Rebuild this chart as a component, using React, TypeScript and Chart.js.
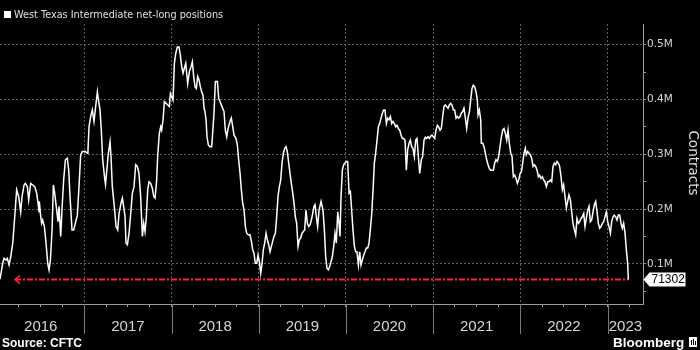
import React, { useEffect, useRef } from "react";
import { Chart, registerables } from "chart.js";

Chart.register(...registerables);

// Weekly report dates as decimal years
const weeks = [
  2016.033, 2016.064, 2016.079, 2016.102, 2016.117, 2016.137, 2016.156, 2016.179, 2016.202, 2016.224,
  2016.247, 2016.270, 2016.286, 2016.309, 2016.324, 2016.347, 2016.362, 2016.385, 2016.408, 2016.431,
  2016.454, 2016.469, 2016.481, 2016.484, 2016.500, 2016.511, 2016.523, 2016.542, 2016.561, 2016.580,
  2016.595, 2016.611, 2016.630, 2016.645, 2016.660, 2016.683, 2016.698, 2016.710, 2016.729, 2016.748,
  2016.763, 2016.783, 2016.805, 2016.821, 2016.836, 2016.859, 2016.878, 2016.897, 2016.920, 2016.939,
  2016.958, 2016.977, 2017.012, 2017.035, 2017.042, 2017.054, 2017.073, 2017.092, 2017.111, 2017.130,
  2017.150, 2017.165, 2017.180, 2017.195, 2017.211, 2017.234, 2017.243, 2017.276, 2017.295, 2017.306,
  2017.321, 2017.344, 2017.364, 2017.383, 2017.398, 2017.421, 2017.436, 2017.451, 2017.467, 2017.478,
  2017.494, 2017.513, 2017.532, 2017.551, 2017.570, 2017.589, 2017.608, 2017.627, 2017.646, 2017.666,
  2017.681, 2017.696, 2017.711, 2017.727, 2017.742, 2017.761, 2017.780, 2017.796, 2017.811, 2017.830,
  2017.841, 2017.860, 2017.876, 2017.887, 2017.903, 2017.918, 2017.937, 2017.956, 2017.975, 2017.987,
  2018.002, 2018.017, 2018.033, 2018.048, 2018.067, 2018.086, 2018.101, 2018.117, 2018.132, 2018.147,
  2018.163, 2018.174, 2018.185, 2018.205, 2018.224, 2018.239, 2018.254, 2018.270, 2018.285, 2018.300,
  2018.315, 2018.331, 2018.346, 2018.361, 2018.373, 2018.384, 2018.396, 2018.407, 2018.422, 2018.441,
  2018.461, 2018.487, 2018.503, 2018.526, 2018.541, 2018.556, 2018.579, 2018.602, 2018.617, 2018.633,
  2018.648, 2018.671, 2018.686, 2018.702, 2018.717, 2018.740, 2018.755, 2018.770, 2018.786, 2018.801,
  2018.816, 2018.832, 2018.847, 2018.862, 2018.881, 2018.900, 2018.916, 2018.931, 2018.946, 2018.961,
  2018.977, 2018.992, 2019.007, 2019.023, 2019.038, 2019.053, 2019.068, 2019.084, 2019.099, 2019.114,
  2019.130, 2019.145, 2019.160, 2019.175, 2019.191, 2019.206, 2019.221, 2019.237, 2019.252, 2019.267,
  2019.283, 2019.298, 2019.313, 2019.328, 2019.344, 2019.359, 2019.374, 2019.390, 2019.405, 2019.420,
  2019.435, 2019.451, 2019.466, 2019.481, 2019.497, 2019.512, 2019.527, 2019.542, 2019.558, 2019.573,
  2019.588, 2019.604, 2019.619, 2019.634, 2019.646, 2019.661, 2019.676, 2019.692, 2019.715, 2019.737,
  2019.753, 2019.768, 2019.783, 2019.799, 2019.814, 2019.829, 2019.844, 2019.860, 2019.875, 2019.890,
  2019.906, 2019.921, 2019.932, 2019.944, 2019.959, 2019.974, 2019.990, 2020.005, 2020.020, 2020.036,
  2020.051, 2020.066, 2020.081, 2020.097, 2020.112, 2020.127, 2020.143, 2020.158, 2020.173, 2020.188,
  2020.204, 2020.219, 2020.234, 2020.250, 2020.265, 2020.280, 2020.296, 2020.311, 2020.326, 2020.341,
  2020.357, 2020.372, 2020.387, 2020.403, 2020.418, 2020.433, 2020.448, 2020.464, 2020.479, 2020.494,
  2020.510, 2020.525, 2020.540, 2020.555, 2020.571, 2020.586, 2020.601, 2020.617, 2020.632, 2020.647,
  2020.662, 2020.678, 2020.693, 2020.708, 2020.724, 2020.739, 2020.754, 2020.769, 2020.785, 2020.800,
  2020.815, 2020.831, 2020.846, 2020.865, 2020.880, 2020.896, 2020.911, 2020.926, 2020.942, 2020.957,
  2020.972, 2020.987, 2021.003, 2021.018, 2021.033, 2021.049, 2021.064, 2021.079, 2021.094, 2021.110,
  2021.125, 2021.140, 2021.156, 2021.171, 2021.186, 2021.201, 2021.217, 2021.232, 2021.247, 2021.263,
  2021.278, 2021.293, 2021.309, 2021.324, 2021.339, 2021.354, 2021.370, 2021.385, 2021.400, 2021.416,
  2021.431, 2021.446, 2021.461, 2021.477, 2021.492, 2021.507, 2021.515, 2021.530, 2021.546, 2021.553,
  2021.569, 2021.584, 2021.599, 2021.614, 2021.630, 2021.645, 2021.660, 2021.676, 2021.691, 2021.706,
  2021.721, 2021.737, 2021.752, 2021.767, 2021.783, 2021.798, 2021.813, 2021.829, 2021.844, 2021.859,
  2021.874, 2021.890, 2021.905, 2021.920, 2021.936, 2021.951, 2021.966, 2021.981, 2021.997, 2022.012,
  2022.027, 2022.043, 2022.058, 2022.069, 2022.085, 2022.100, 2022.115, 2022.130, 2022.146, 2022.161,
  2022.176, 2022.192, 2022.207, 2022.222, 2022.237, 2022.253, 2022.268, 2022.283, 2022.299, 2022.314,
  2022.329, 2022.344, 2022.360, 2022.375, 2022.390, 2022.406, 2022.421, 2022.436, 2022.451, 2022.467,
  2022.482, 2022.497, 2022.513, 2022.528, 2022.543, 2022.558, 2022.574, 2022.589, 2022.604, 2022.620,
  2022.635, 2022.650, 2022.666, 2022.681, 2022.696, 2022.711, 2022.727, 2022.742, 2022.757, 2022.773,
  2022.788, 2022.803, 2022.818, 2022.834, 2022.849, 2022.864, 2022.880, 2022.895, 2022.910, 2022.925,
  2022.941, 2022.956, 2022.971, 2022.987, 2023.002, 2023.017, 2023.033, 2023.048, 2023.063, 2023.078,
  2023.094, 2023.109, 2023.124, 2023.140, 2023.155, 2023.170, 2023.185, 2023.201, 2023.216, 2023.231,
  2023.239,
];

// Net-long positions, thousands of contracts
const netLong = [
  72, 101, 110, 107, 110, 98, 113, 138, 186, 235,
  223, 195, 223, 244, 247, 241, 217, 247, 244, 241,
  229, 211, 195, 214, 186, 174, 180, 168, 138, 101,
  89, 107, 162, 244, 229, 198, 177, 205, 150, 211,
  253, 290, 293, 271, 223, 162, 162, 174, 189, 241,
  299, 305, 305, 302, 308, 350, 369, 381, 360, 387,
  414, 396, 381, 344, 290, 255, 245, 302, 323, 296,
  241, 205, 168, 162, 192, 211, 220, 205, 186, 138,
  135, 156, 192, 229, 241, 281, 278, 265, 223, 150,
  174, 159, 186, 235, 250, 247, 238, 223, 220, 253,
  296, 338, 350, 344, 363, 396, 393, 390, 387, 411,
  405, 399, 466, 484, 496, 496, 481, 460, 448, 457,
  466, 448, 429, 451, 460, 469, 442, 423, 420, 442,
  436, 423, 414, 408, 384, 378, 363, 332, 317, 314,
  314, 375, 433, 433, 402, 396, 387, 378, 344, 332,
  347, 360, 366, 350, 335, 329, 317, 290, 265, 235,
  211, 198, 168, 156, 153, 153, 141, 126, 119, 101,
  101, 116, 104, 83, 101, 126, 138, 156, 144, 135,
  122, 132, 141, 150, 156, 186, 223, 241, 253, 284,
  302, 311, 314, 305, 284, 265, 247, 229, 211, 186,
  174, 132, 144, 147, 156, 159, 162, 198, 174, 168,
  171, 180, 192, 205, 208, 186, 168, 198, 214, 198,
  162, 113, 92, 89, 95, 104, 113, 132, 156, 138,
  195, 174, 150, 223, 271, 281, 284, 287, 287, 229,
  232, 198, 162, 132, 122, 122, 98, 122, 98, 107,
  116, 122, 129, 129, 138, 162, 192, 235, 284, 302,
  326, 350, 356, 366, 375, 381, 381, 356, 366, 363,
  369, 356, 360, 356, 350, 353, 347, 344, 335, 329,
  329, 326, 271, 308, 320, 326, 314, 311, 296, 326,
  329, 296, 265, 290, 296, 326, 331, 329, 332, 329,
  333, 335, 332, 329, 344, 353, 350, 344, 347, 369,
  387, 390, 387, 384, 390, 393, 390, 381, 381, 366,
  369, 366, 369, 375, 378, 384, 366, 347, 366, 378,
  399, 420, 426, 423, 414, 399, 372, 381, 363, 320,
  320, 314, 302, 290, 281, 274, 271, 271, 271, 284,
  290, 287, 296, 314, 332, 344, 347, 338, 326, 344,
  320, 302, 296, 259, 262, 256, 247, 253, 265, 268,
  284, 302, 311, 299, 305, 302, 299, 293, 278, 281,
  278, 271, 259, 262, 256, 259, 253, 250, 241, 250,
  250, 253, 250, 278, 284, 281, 287, 284, 278, 259,
  235, 244, 223, 202, 214, 226, 217, 195, 174, 162,
  153, 183, 174, 177, 183, 186, 192, 168, 183, 198,
  205, 177, 180, 195, 208, 214, 195, 174, 165, 168,
  174, 177, 186, 195, 177, 168, 156, 177, 186, 189,
  186, 180, 189, 189, 174, 165, 174, 156, 126, 101,
  71.302,
];

const titleText = "West Texas Intermediate net-long positions";
const yAxisTitle = "Contracts";
const sourceText = "Source: CFTC";
const brandText = "Bloomberg";

const yearLabels = ["2016", "2017", "2018", "2019", "2020", "2021", "2022", "2023"];
const yearLabelAt = [2016.5, 2017.5, 2018.5, 2019.5, 2020.5, 2021.5, 2022.5, 2023.205];
const yearStarts = [2017, 2018, 2019, 2020, 2021, 2022, 2023];
const quarterTicks = [
  2016.25, 2016.5, 2016.75, 2017, 2017.25, 2017.5, 2017.75, 2018, 2018.25, 2018.5, 2018.75,
  2019, 2019.25, 2019.5, 2019.75, 2020, 2020.25, 2020.5, 2020.75, 2021, 2021.25, 2021.5, 2021.75,
  2022, 2022.25, 2022.5, 2022.75, 2023, 2023.25,
];
const yTickValues = [50, 100, 150, 200, 250, 300, 350, 400, 450, 500];
const yTickLabels = ["", "0.1M", "", "0.2M", "", "0.3M", "", "0.4M", "", "0.5M"];

const latestValue = 71.302;
const latestLabel = "71302";
const refLineStart = 2016.205;

const X_MIN = 2016.033;
const X_MAX = 2023.407;
const Y_MIN = 26.8;
const Y_MAX = 537.8;

const RED = "#ff2340";
const GRID = "#5e5e5e";
const AXIS = "#9a9a9a";
const TEXT = "#e0e0e0";

const decor = {
  id: "decor",
  afterDraw(chart: any) {
    const { ctx, chartArea, scales } = chart;
    const xs = scales.x;
    const ys = scales.y;
    ctx.save();

    // year separators below the axis
    ctx.strokeStyle = "#7a7a7a";
    ctx.lineWidth = 1;
    yearStarts.forEach((v) => {
      const px = Math.round(xs.getPixelForValue(v)) + 0.5;
      ctx.beginPath();
      ctx.moveTo(px, chartArea.bottom);
      ctx.lineTo(px, chartArea.bottom + 30);
      ctx.stroke();
    });

    // red arrow head at the start of the reference line
    const ry = ys.getPixelForValue(latestValue);
    const rx = xs.getPixelForValue(refLineStart);
    ctx.strokeStyle = RED;
    ctx.lineWidth = 1.5;
    ctx.beginPath();
    ctx.moveTo(rx + 5, ry - 4);
    ctx.lineTo(rx, ry);
    ctx.lineTo(rx + 5, ry + 4);
    ctx.stroke();

    // latest value tag on the right axis
    const bx = chartArea.right + 0.5;
    ctx.fillStyle = "#ffffff";
    ctx.beginPath();
    ctx.moveTo(bx, ry);
    ctx.lineTo(bx + 6, ry - 7);
    ctx.lineTo(bx + 42, ry - 7);
    ctx.lineTo(bx + 42, ry + 7);
    ctx.lineTo(bx + 6, ry + 7);
    ctx.closePath();
    ctx.fill();
    ctx.fillStyle = "#000000";
    ctx.font = "12px 'Liberation Sans', Arial, sans-serif";
    ctx.textBaseline = "middle";
    ctx.textAlign = "left";
    ctx.fillText(latestLabel, bx + 8, ry + 0.5);

    // title with legend square
    ctx.fillStyle = "#ffffff";
    ctx.fillRect(4, 11, 7, 7);
    ctx.fillStyle = TEXT;
    ctx.font = "9.7px 'DejaVu Sans', sans-serif";
    ctx.textBaseline = "alphabetic";
    ctx.fillText(titleText, 14, 18);

    // y-axis title
    ctx.save();
    ctx.translate(692, 163);
    ctx.rotate(Math.PI / 2);
    ctx.textAlign = "center";
    ctx.textBaseline = "middle";
    ctx.font = "13.5px 'DejaVu Sans', sans-serif";
    ctx.fillStyle = TEXT;
    ctx.fillText(yAxisTitle, 0, 0);
    ctx.restore();

    // source and brand
    ctx.fillStyle = "#ffffff";
    ctx.textAlign = "left";
    ctx.textBaseline = "alphabetic";
    ctx.font = "bold 12px 'Liberation Sans', Arial, sans-serif";
    ctx.fillText(sourceText, 2, 347);
    ctx.font = "bold 13.5px 'Liberation Sans', Arial, sans-serif";
    ctx.fillText(brandText, 613, 347);
    // small brand mark
    ctx.fillRect(689, 337, 8, 10);
    ctx.fillStyle = "#000000";
    ctx.fillRect(691, 340, 1, 5);
    ctx.fillRect(693, 339, 1, 6);
    ctx.fillRect(695, 341, 1, 4);

    ctx.restore();
  },
};

export default function App() {
  const ref = useRef<HTMLCanvasElement>(null);

  useEffect(() => {
    const canvas = ref.current;
    if (!canvas) return;
    const chart = new Chart(canvas, {
      type: "line",
      data: {
        datasets: [
          {
            label: titleText,
            data: weeks.map((w, i) => ({ x: w, y: netLong[i] })),
            borderColor: "#ffffff",
            borderWidth: 1.5,
            pointRadius: 0,
            tension: 0,
            order: 1,
          },
          {
            label: "latest",
            data: [
              { x: refLineStart, y: latestValue },
              { x: weeks[weeks.length - 1], y: latestValue },
            ],
            borderColor: RED,
            borderWidth: 2,
            borderDash: [6, 2, 2, 2],
            pointRadius: 0,
            order: 2,
          },
        ],
      },
      options: {
        responsive: false,
        animation: false,
        devicePixelRatio: 1,
        layout: { padding: { top: 24, left: 0, right: 0, bottom: 0 } },
        plugins: {
          legend: { display: false },
          tooltip: { enabled: false },
          title: { display: false },
        },
        scales: {
          x: {
            type: "linear",
            min: X_MIN,
            max: X_MAX,
            afterBuildTicks: (scale: any) => {
              const vals = [...quarterTicks, yearLabelAt[yearLabelAt.length - 1]].sort((a, b) => a - b);
              scale.ticks = vals.map((v) => ({ value: v }));
            },
            afterFit: (scale: any) => {
              scale.height = 46;
            },
            ticks: {
              autoSkip: false,
              maxRotation: 0,
              padding: 11,
              color: "#d6d6d6",
              font: { family: "'Liberation Sans Narrow', 'Liberation Sans', Arial, sans-serif", size: 15 },
              callback: (value: any) => {
                const i = yearLabelAt.findIndex((p) => Math.abs(p - Number(value)) < 1e-6);
                return i >= 0 ? yearLabels[i] : "";
              },
            },
            grid: {
              color: (c: any) => (c.tick && Number.isInteger(c.tick.value) ? GRID : "rgba(0,0,0,0)"),
              lineWidth: 1,
              drawTicks: true,
              tickLength: 3,
              tickColor: (c: any) =>
                c.tick && quarterTicks.includes(c.tick.value) ? AXIS : "rgba(0,0,0,0)",
            },
            border: { display: true, color: AXIS, width: 1, dash: [2, 2] },
          },
          y: {
            type: "linear",
            position: "right",
            min: Y_MIN,
            max: Y_MAX,
            afterBuildTicks: (scale: any) => {
              scale.ticks = yTickValues.map((v) => ({ value: v }));
            },
            afterFit: (scale: any) => {
              scale.width = 57;
            },
            ticks: {
              padding: 1,
              color: "#d6d6d6",
              font: { family: "'DejaVu Sans', sans-serif", size: 10.5 },
              callback: (value: any) => {
                const i = yTickValues.indexOf(Number(value));
                return i >= 0 ? yTickLabels[i] : "";
              },
            },
            grid: {
              color: (c: any) => (c.tick && c.tick.value % 100 === 0 ? GRID : "rgba(0,0,0,0)"),
              lineWidth: 1,
              drawTicks: true,
              tickLength: 3,
              tickColor: AXIS,
            },
            border: { display: true, color: AXIS, width: 1, dash: [2, 2] },
          },
        },
      },
      plugins: [decor],
    });
    return () => chart.destroy();
  }, []);

  return (
    <div style={{ position: "fixed", left: 0, top: 0, width: 700, height: 350, background: "#000" }}>
      <canvas ref={ref} width={700} height={350} style={{ display: "block", width: 700, height: 350 }} />
    </div>
  );
}
